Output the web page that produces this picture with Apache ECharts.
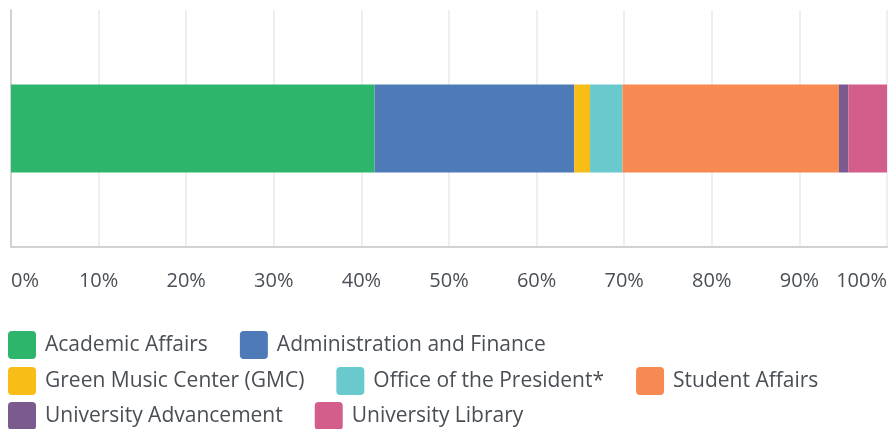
<!DOCTYPE html>
<html>
<head>
<meta charset="utf-8">
<script src="https://cdn.jsdelivr.net/npm/echarts@6/dist/echarts.min.js"></script>
<style>
  html, body { margin: 0; padding: 0; background: #fff; }
  #chart { width: 890px; height: 429px; }
</style>
</head>
<body>
<div id="chart"></div>
<script>
// share of total, in percent
const divisions = ['Academic Affairs', 'Administration and Finance', 'Green Music Center (GMC)',
  'Office of the President*', 'Student Affairs', 'University Advancement', 'University Library'];
const shares = [41.5, 22.8, 1.8, 3.7, 24.7, 1.1, 4.4];
const colors = ['#2db56c', '#4e7ab8', '#f8bd17', '#6ac9cd', '#f68a52', '#7b5b8e', '#d35e8c'];
const legendRows = [
  ['Academic Affairs', 'Administration and Finance'],
  ['Green Music Center (GMC)', 'Office of the President*', 'Student Affairs'],
  ['University Advancement', 'University Library']
];

const chart = echarts.init(document.getElementById('chart'));
const textColor = '#4a4f55';
const font = '"Open Sans", Roboto, sans-serif';
const icon = 'path://M4,0 H24 Q28,0 28,4 V24 Q28,28 24,28 H4 Q0,28 0,24 V4 Q0,0 4,0 Z';

const legends = legendRows.map((row, i) => ({
  data: row,
  left: 8,
  top: [331, 367, 402][i],
  padding: 0,
  orient: 'horizontal',
  icon: icon,
  itemWidth: 28,
  itemHeight: 28,
  itemGap: 32,
  selectedMode: false,
  textStyle: {
    color: textColor,
    fontSize: 21,
    fontFamily: font,
    padding: [0, 0, 0, 4]
  }
}));

const option = {
  animation: false,
  color: colors,
  legend: legends,
  grid: { left: 11, right: 3, top: 10, height: 237, containLabel: false },
  xAxis: {
    type: 'value',
    min: 0,
    max: 100,
    interval: 10,
    axisLine: { show: true, lineStyle: { color: '#d2d2d2', width: 2 } },
    axisTick: { show: false },
    splitLine: { lineStyle: { color: '#eef0f0', width: 2 } },
    axisLabel: {
      formatter: '{value}%',
      color: textColor,
      fontSize: 20,
      fontFamily: font,
      margin: 24,
      alignMinLabel: 'left',
      alignMaxLabel: 'right'
    }
  },
  yAxis: {
    type: 'category',
    data: [''],
    axisLine: { show: true, lineStyle: { color: '#d2d2d2', width: 2 } },
    axisTick: { show: false },
    axisLabel: { show: false }
  },
  series: divisions.map((name, i) => ({
    name: name,
    type: 'bar',
    stack: 'total',
    barWidth: 88,
    data: [shares[i]]
  }))
};

chart.setOption(option);
</script>
</body>
</html>
